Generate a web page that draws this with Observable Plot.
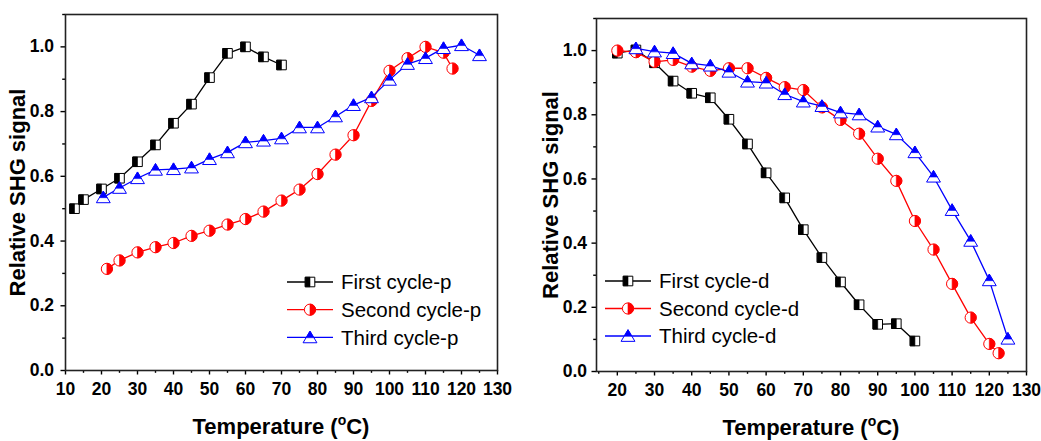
<!DOCTYPE html>
<html><head><meta charset="utf-8">
<script src="https://cdn.jsdelivr.net/npm/d3@7"></script>
<script src="https://cdn.jsdelivr.net/npm/@observablehq/plot@0.6"></script>
<style>
body{margin:0;background:#fff;}
#wrap{display:flex;width:1041px;height:441px;overflow:hidden;}
svg{font-family:"Liberation Sans",Arial,sans-serif;overflow:visible;}
</style></head><body><div id="wrap"></div>
<script>
// ---------- data (left panel: heating, "p") ----------
const firstP_t  = [12.5,15,20,25,30,35,40,45,50,55,60,65,70];
const firstP_v  = [0.500,0.528,0.561,0.594,0.645,0.697,0.764,0.823,0.905,0.980,1.000,0.969,0.944];
const secondP_t = [21.5,25,30,35,40,45,50,55,60,65,70,75,80,85,90,95,100,105,110,115,117.5];
const secondP_v = [0.314,0.340,0.365,0.381,0.394,0.416,0.432,0.451,0.468,0.491,0.525,0.559,0.607,0.667,0.727,0.833,0.926,0.965,1.000,0.982,0.933];
const thirdP_t  = [20.5,25,30,35,40,45,50,55,60,65,70,75,80,85,90,95,100,105,110,115,120,125];
const thirdP_v  = [0.535,0.564,0.594,0.620,0.622,0.627,0.653,0.674,0.705,0.710,0.717,0.751,0.751,0.785,0.820,0.844,0.898,0.947,0.965,0.996,1.005,0.974];
// ---------- data (right panel: "d") ----------
const firstD_t  = [20,25,30,35,40,45,50,55,60,65,70,75,80,85,90,95,100];
const firstD_v  = [0.992,1.002,0.962,0.905,0.867,0.853,0.786,0.709,0.619,0.541,0.442,0.355,0.279,0.208,0.147,0.149,0.095];
const secondD_t = [20,25,30,35,40,45,50,55,60,65,70,75,80,85,90,95,100,105,110,115,120,122.5];
const secondD_v = [1.000,0.995,0.965,0.971,0.950,0.937,0.945,0.945,0.915,0.886,0.877,0.823,0.784,0.741,0.663,0.594,0.469,0.380,0.273,0.168,0.086,0.057];
const thirdD_t  = [25,30,35,40,45,50,55,60,65,70,75,80,85,90,95,100,105,110,115,120,125];
const thirdD_v  = [1.007,0.997,0.992,0.960,0.953,0.934,0.903,0.900,0.864,0.841,0.827,0.807,0.801,0.763,0.739,0.683,0.607,0.503,0.407,0.284,0.102];

const legendP = ["First cycle-p","Second cycle-p","Third cycle-p"];
const legendD = ["First cycle-d","Second cycle-d","Third cycle-d"];
const xTicksP = [10,20,30,40,50,60,70,80,90,100,110,120,130];
const xTicksD = [20,30,40,50,60,70,80,90,100,110,120,130];
const xMinorP = [15,25,35,45,55,65,75,85,95,105,115,125];
const xMinorD = [15,25,35,45,55,65,75,85,95,105,115,125];
const yTicks = [0.0,0.2,0.4,0.6,0.8,1.0];
const yMinor = [0.1,0.3,0.5,0.7,0.9,1.1];
const xTitleParts = ["Temperature (", "o", "C)"];
const yTitle = "Relative SHG signal";

// ---------- marker symbols ----------
const rad = s => Math.sqrt(s/Math.PI);
const sqFull = {draw(c,s){const r=rad(s); c.rect(-r,-r,2*r,2*r);}};
const sqHalf = {draw(c,s){const r=rad(s); c.rect(-r,-r,r,2*r);}};
const ciFull = {draw(c,s){const r=rad(s); c.moveTo(r,0); c.arc(0,0,r,0,2*Math.PI);}};
const ciHalf = {draw(c,s){const r=rad(s); c.moveTo(0,-r); c.arc(0,0,r,-Math.PI/2,Math.PI/2); c.closePath();}};
const triFull = {draw(c,s){const r=rad(s); c.moveTo(0,-r); c.lineTo(1.1*r,0.85*r); c.lineTo(-1.1*r,0.85*r); c.closePath();}};
const triHalf = {draw(c,s){const r=rad(s); c.moveTo(0,-r); c.lineTo(0.62*r,0.05*r); c.lineTo(-0.62*r,0.05*r); c.closePath();}};

const styles = [
  {color:"#000000", full:sqFull, half:sqHalf, r:4.8},
  {color:"#ff0000", full:ciFull, half:ciHalf, r:5.6},
  {color:"#0000ff", full:triFull, half:triHalf, r:6.3}
];

const toRows = (t,v) => t.map((x,i)=>({t:x, v:v[i]}));

function panel({series, labels, xDomain, xTicks, xMinor, width, m, yPad, yTitleDx, legend}) {
  const marks = [];
  series.forEach((data,i)=>{
    const st = styles[i];
    marks.push(Plot.line(data,{x:"t",y:"v",stroke:st.color,strokeWidth:1.3}));
    marks.push(Plot.dot(data,{x:"t",y:"v",symbol:st.full,r:st.r,fill:"white",stroke:st.color,strokeWidth:1}));
    marks.push(Plot.dot(data,{x:"t",y:"v",symbol:st.half,r:st.r,fill:st.color,stroke:st.color,strokeWidth:0.6}));
  });
  marks.push(
    Plot.axisX({ticks:xTicks, tickSize:4.5, tickPadding:8, fontSize:17.5, fontWeight:"bold", label:null, strokeWidth:1.4}),
    Plot.axisX({ticks:xMinor, tickSize:2.8, tickFormat:()=>"", label:null, strokeWidth:1.4}),
    Plot.axisY({ticks:yTicks, tickSize:4.5, tickPadding:yPad, fontSize:17.5, fontWeight:"bold", label:null, tickFormat:d3.format(".1f"), strokeWidth:1.4}),
    Plot.axisY({ticks:yMinor, tickSize:2.8, tickFormat:()=>"", label:null, strokeWidth:1.4}),
    Plot.frame({stroke:"#222", strokeWidth:1.6}),
    Plot.text([yTitle],{frameAnchor:"left", textAnchor:"middle", rotate:-90, dx:yTitleDx, fontSize:22, fontWeight:"bold", fill:"#000"})
  );
  const height = 441;
  const svg = Plot.plot({
    width, height,
    marginLeft:m[0], marginRight:m[1], marginTop:m[2], marginBottom:m[3],
    x:{domain:xDomain}, y:{domain:[0,1.1]},
    style:{fontFamily:'"Liberation Sans",Arial,sans-serif', color:"#000", background:"white"},
    marks
  });
  // x-axis title with superscript "o"
  const t = d3.select(svg).append("text")
    .attr("x", (m[0] + width - m[1]) / 2).attr("y", height - m[3] + 64)
    .attr("text-anchor","middle").attr("font-size",22).attr("font-weight","bold").attr("fill","#000");
  t.append("tspan").text(xTitleParts[0]);
  t.append("tspan").attr("font-size",14).attr("dy",-9).text(xTitleParts[1]);
  t.append("tspan").attr("dy",9).text(xTitleParts[2]);
  // legend
  const g = d3.select(svg).append("g");
  labels.forEach((lab,i)=>{
    const st = styles[i];
    const y = legend.y + i*legend.dy;
    const cx = legend.x + 23;
    g.append("line").attr("x1",legend.x).attr("x2",legend.x+46).attr("y1",y).attr("y2",y)
      .attr("stroke",st.color).attr("stroke-width",1.3);
    g.append("path").attr("transform",`translate(${cx},${y})`)
      .attr("d", d3.symbol(st.full, Math.PI*st.r*st.r)()).attr("fill","white").attr("stroke",st.color).attr("stroke-width",1);
    g.append("path").attr("transform",`translate(${cx},${y})`)
      .attr("d", d3.symbol(st.half, Math.PI*st.r*st.r)()).attr("fill",st.color).attr("stroke",st.color).attr("stroke-width",0.6);
    g.append("text").attr("x",legend.x+54).attr("y",y).attr("dy","0.35em")
      .attr("text-anchor","start").attr("font-size",20.5).attr("fill","#000").text(lab);
  });
  return svg;
}

const wrap = document.getElementById("wrap");
wrap.appendChild(panel({
  series:[toRows(firstP_t,firstP_v), toRows(secondP_t,secondP_v), toRows(thirdP_t,thirdP_v)],
  labels:legendP, xDomain:[10,130], xTicks:xTicksP, xMinor:xMinorP,
  width:520, m:[65,23,14,71], yPad:7, yTitleDx:-48,
  legend:{x:287, y:282, dy:27.7}
}));
wrap.appendChild(panel({
  series:[toRows(firstD_t,firstD_v), toRows(secondD_t,secondD_v), toRows(thirdD_t,thirdD_v)],
  labels:legendD, xDomain:[14.4,130], xTicks:xTicksD, xMinor:xMinorD,
  width:521, m:[76,15,18,70], yPad:5, yTitleDx:-46,
  legend:{x:85, y:281, dy:27.5}
}));
</script></body></html>
